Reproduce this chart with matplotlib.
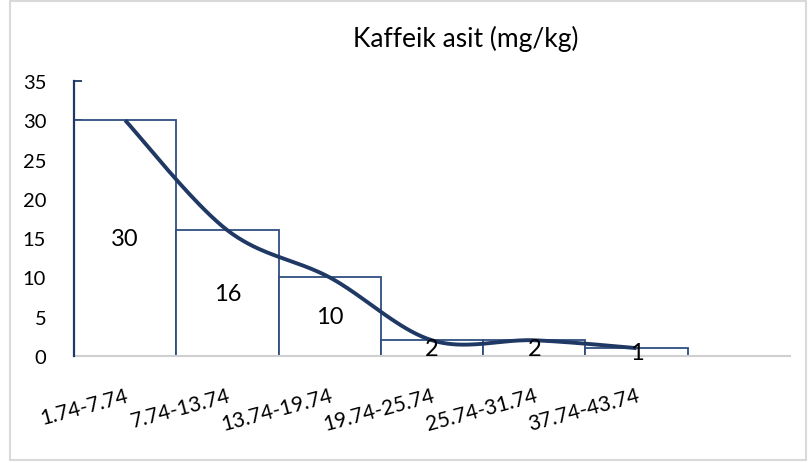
import numpy as np
import matplotlib
matplotlib.use("Agg")
import matplotlib.pyplot as plt
from matplotlib.patches import Rectangle

categories = ["1.74-7.74", "7.74-13.74", "13.74-19.74", "19.74-25.74", "25.74-31.74", "37.74-43.74"]
counts = [30, 16, 10, 2, 2, 1]
title = "Kaffeik asit (mg/kg)"
yticks = [0, 5, 10, 15, 20, 25, 30, 35]

plt.rcParams['font.family'] = ['Lato', 'DejaVu Sans']

navy = "#203864"
bar_edge = "#2F4E80"

fig = plt.figure(figsize=(8.08, 4.64), dpi=100)
# light border
fig.patches.append(Rectangle((0.012, 0.006), 0.985, 0.99, transform=fig.transFigure,
                             fill=False, edgecolor="#D9D9D9", linewidth=1.5))
ax = fig.add_axes([74/808, 1 - 357/464, 716/808, 275/464])

x = np.arange(len(counts))
ax.bar(x, counts, width=1.0, align='edge', facecolor='white', edgecolor=bar_edge, linewidth=1.3, zorder=2)

# smooth line (Excel-like Bezier smoothing) through bar centres
px = x + 0.5
py = np.array(counts, dtype=float)
P = np.column_stack([px, py])
curve = []
n = len(P)
for i in range(n - 1):
    p0 = P[i - 1] if i > 0 else P[i]
    p1 = P[i]
    p2 = P[i + 1]
    p3 = P[i + 2] if i + 2 < n else P[i + 1]
    c1 = p1 + (p2 - p0) / 6.0
    c2 = p2 - (p3 - p1) / 6.0
    t = np.linspace(0, 1, 40)[:, None]
    seg = (1 - t) ** 3 * p1 + 3 * (1 - t) ** 2 * t * c1 + 3 * (1 - t) * t ** 2 * c2 + t ** 3 * p2
    curve.append(seg if i == 0 else seg[1:])
curve = np.vstack(curve)
ax.plot(curve[:, 0], curve[:, 1], color=navy, linewidth=2.8, solid_capstyle='butt', zorder=4)

for xi, c in zip(x, counts):
    ax.text(xi + 0.5, c / 2.0, str(c), ha='center', va='center', fontsize=17, color='black', zorder=5)

ax.set_xlim(0, 7)
ax.set_ylim(0, 35)
ax.set_yticks(yticks)
ax.set_yticklabels([str(v) for v in yticks], fontsize=14.5)
ax.set_xticks(px)
ax.set_xticklabels(categories, rotation=15, ha='right', va='top', rotation_mode='anchor', fontsize=15)
ax.tick_params(axis='x', length=0, pad=21)
ax.tick_params(axis='y', direction='in', length=6, width=1.3, color=navy, pad=20)
for lbl in ax.get_yticklabels():
    lbl.set_horizontalalignment('right')

for s in ['top', 'right']:
    ax.spines[s].set_visible(False)
ax.spines['left'].set_color(navy)
ax.spines['left'].set_linewidth(1.6)
ax.spines['bottom'].set_color('#D0D0D0')
ax.spines['bottom'].set_linewidth(1.5)
ax.spines['left'].set_zorder(6)

fig.text(466/808, 1 - 39/464, title, ha='center', va='center', fontsize=19)

fig.savefig("out.png", dpi=100)
